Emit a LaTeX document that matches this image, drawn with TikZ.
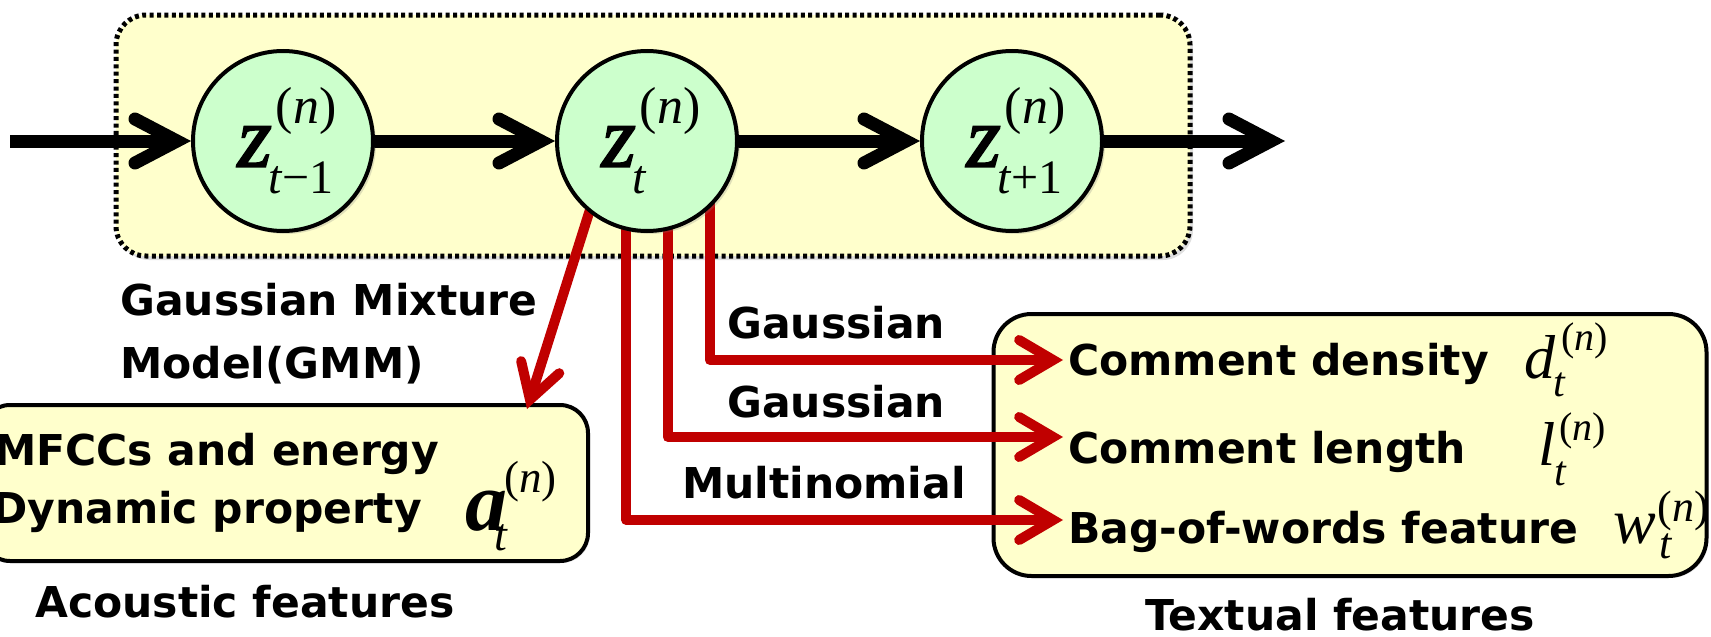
\documentclass[tikz,border=0pt]{standalone}
\usepackage{fontspec}
\setmainfont{DejaVu Sans}
\newfontfamily\tm{Liberation Serif}
\newfontfamily\tmb{Liberation Serif}[FakeBold=2]
\usetikzlibrary{arrows.meta,shadows,calc}
\definecolor{boxyellow}{HTML}{FFFFCC}
\definecolor{nodegreen}{HTML}{CCFFCC}
\definecolor{arrred}{HTML}{C00000}
\pgfdeclarelayer{bgzero}
\pgfdeclarelayer{bgone}
\pgfsetlayers{bgzero,bgone,main}
% #1 main size, #2 sup size, #3 main letter, #4 subscript, #5 raise, #6 lower, #7 sup kern, #8 sub kern, #9 sub size
\newcommand\rv[9]{\hbox{%
  {\fontsize{#1}{#1}\selectfont\tm\itshape #3}%
  \setbox0\hbox{\fontsize{#2}{#2}\selectfont\tm(\textit{n})}%
  \setbox2\hbox{\fontsize{#9}{#9}\selectfont\tm\itshape #4}%
  \dimen0=\wd0 \advance\dimen0 by #7\relax
  \dimen2=\wd2 \advance\dimen2 by #8\relax
  \ifdim\dimen2>\dimen0 \dimen0=\dimen2 \fi
  \rlap{\kern#7\raise#5\box0}\rlap{\kern#8\lower#6\box2}\kern\dimen0}}
\begin{document}
\begin{tikzpicture}[x=1pt,y=-1pt,
  txt/.style={font=\fontsize{42.5}{50}\selectfont\bfseries, inner sep=0pt, anchor=base west},
  mathlbl/.style={inner sep=0pt, anchor=base west},
  circ/.style={circle, draw=black, line width=4pt, fill=nodegreen, minimum size=180pt, inner sep=0pt,
    drop shadow={opacity=0.25, shadow xshift=3pt, shadow yshift=-3pt}},
  hmmbox/.style={draw=black, line width=5pt, dash pattern=on 4pt off 3.4pt, fill=boxyellow,
    rounded corners=30pt, inner sep=0pt, drop shadow={opacity=0.25, shadow xshift=3pt, shadow yshift=-4pt}},
  featbox/.style={draw=black, line width=4pt, fill=boxyellow, inner sep=0pt,
    drop shadow={opacity=0.2, shadow xshift=2pt, shadow yshift=-2pt}},
  blk/.style={line width=13pt, -{Straight Barb[length=42pt, width=44pt, line cap=round, line join=miter]}},
  redarr/.style={draw=arrred, line width=10pt, line join=round,
    -{Straight Barb[length=34pt, width=40pt, line cap=round, line join=miter]}}]
\useasboundingbox (0,0) rectangle (1711,637);

\begin{pgfonlayer}{bgzero}
  \node[hmmbox, minimum width=1074pt, minimum height=241pt] (hmm) at (653,135.5) {};
  \node[featbox, rounded corners=28pt, minimum width=606pt, minimum height=156pt] (ac) at (285,483) {};
  \node[featbox, rounded corners=38pt, minimum width=713pt, minimum height=262pt] (tx) at (1350,445) {};
\end{pgfonlayer}

% state nodes
\node[circ] (z1) at (283,141) {\hspace{8pt}\raisebox{-3pt}{\rv{88}{52}{\tmb z}{t\upshape\textminus1}{43pt}{27pt}{4pt}{-3pt}{48}}};
\node[circ] (z2) at (647,141) {\hspace{8pt}\raisebox{-3pt}{\rv{88}{52}{\tmb z}{t}{43pt}{27pt}{4pt}{-3pt}{48}}};
\node[circ] (z3) at (1012,141) {\hspace{8pt}\raisebox{-3pt}{\rv{88}{52}{\tmb z}{t\upshape+1}{43pt}{27pt}{4pt}{-3pt}{48}}};

% black chain
\coordinate (in) at (10,141);
\coordinate (out) at (1285,141);
\draw[blk] (in) -- (z1);
\draw[blk] (z1) -- (z2);
\draw[blk] (z2) -- (z3);
\draw[blk] (z3) -- (out);

% red emissions
\coordinate (tA) at (527,409);
\coordinate (t1) at (1063,360);
\coordinate (t2) at (1063,437);
\coordinate (t3) at (1063,520);
\begin{pgfonlayer}{bgone}
  \draw[redarr] ($(z2.231.6)!-12pt!(tA)$) -- (tA);
  \draw[redarr] ([yshift=12pt]z2.257.9) |- (t3);
  \draw[redarr] ([yshift=12pt]z2.283.4) |- (t2);
  \draw[redarr] ([yshift=12pt]z2.313.8) |- (t1);
\end{pgfonlayer}

% texts
\node[txt] (gmm1) at (120,315) {Gaussian Mixture};
\node[txt] (gmm2) at (120,378) {Model(GMM)};
\node[txt] (ac1) at (-6,465) {MFCCs and energy};
\node[txt] (ac2) at (-8,523) {Dynamic property};
\node[mathlbl] (av) at (465,530) {\rv{84}{45}{\bfseries a}{t}{38pt}{20pt}{-3pt}{-13pt}{46}};
\node[txt] (acl) at (35,617) {Acoustic features};

\node[txt] (g1) at (727,338) {Gaussian};
\node[txt] (g2) at (727,417) {Gaussian};
\node[txt] (mn) at (682,498) {Multinomial};

\node[txt] (cd) at (1068,375) {Comment density};
\node[mathlbl] (dv) at (1524,378) {\rv{62}{40}{d}{t}{28pt}{18pt}{6pt}{-2pt}{42}};
\node[txt] (cl) at (1068,463) {Comment length};
\node[mathlbl] (lv) at (1538,465) {\rv{62}{40}{l}{t}{25pt}{20pt}{4pt}{-1pt}{42}};
\node[txt] (bw) at (1068,543) {Bag-of-words feature};
\node[mathlbl] (wv) at (1613,543) {\rv{64}{44}{w}{t}{22pt}{15pt}{2pt}{4pt}{44}};
\node[txt] (txl) at (1145,630) {Textual features};
\end{tikzpicture}
\end{document}
